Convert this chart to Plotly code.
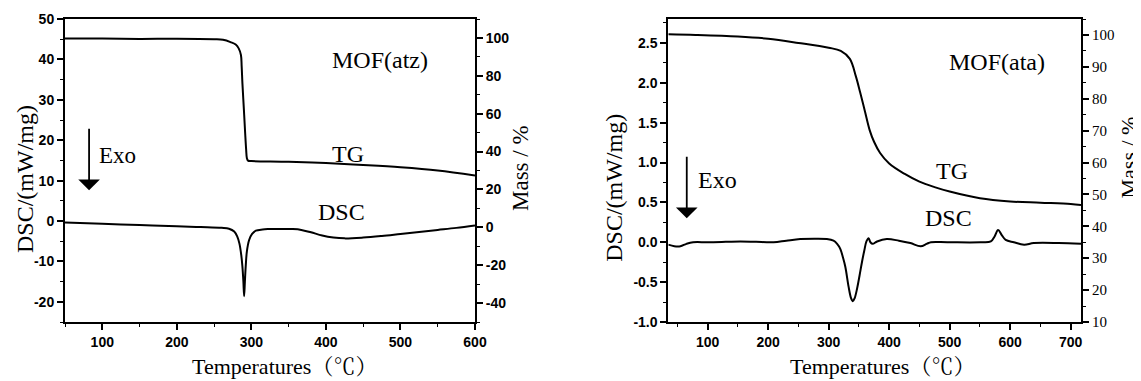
import plotly.graph_objects as go

# ---------------- Data: MOF(atz) (left panel) ----------------
tg_atz_T = [50, 100, 150, 200, 250, 262, 272, 279, 283, 286, 287, 288, 290, 291.7, 293, 294, 295.5, 300, 350, 400, 450, 500, 550, 600]
tg_atz_mass = [99.7, 99.7, 99.5, 99.6, 99.3, 99.0, 97.8, 96.5, 94.5, 91, 85, 76, 62, 49.5, 41, 36.5, 35.2, 35.0, 34.6, 33.9, 32.9, 31.7, 30.0, 27.4]

dsc_atz_T = [50, 100, 150, 200, 232, 260, 270, 277, 281, 284, 286.5, 288, 289.3, 290.3, 291.3, 292.5, 294, 297, 301, 306, 315, 322, 340, 355, 367, 380, 395, 410, 425, 450, 475, 500, 525, 550, 575, 600]
dsc_atz = [-0.4, -0.7, -1.0, -1.3, -1.5, -1.7, -1.9, -2.6, -3.8, -5.6, -8.5, -11.3, -15, -18.6, -15, -11, -7.5, -4.7, -3.2, -2.4, -2.1, -2.0, -1.95, -2.0, -2.2, -2.8, -3.6, -4.1, -4.3, -4.1, -3.7, -3.2, -2.7, -2.2, -1.7, -1.1]

# ---------------- Data: MOF(ata) (right panel) ----------------
tg_ata_T = [35, 80, 150, 200, 250, 300, 320, 335, 345, 352, 360, 368, 375, 385, 400, 425, 450, 475, 500, 550, 600, 650, 700, 717]
tg_ata_mass = [100.2, 100.0, 99.5, 98.8, 97.5, 96.0, 95.0, 92.5, 87, 82, 76, 70, 66.5, 63, 59.7, 56.5, 54, 52.3, 50.9, 48.8, 47.8, 47.4, 47.0, 46.7]

dsc_ata_T = [35, 45, 55, 65, 76, 100, 130, 154, 180, 209, 230, 253, 280, 297, 308, 314, 319, 324, 327.6, 333, 337, 340, 343, 347, 351, 355, 359, 362.4, 366, 369, 372.8, 380, 396, 416, 435, 452, 462, 469, 496, 551, 568, 574, 580, 586, 592.5, 606, 623, 639, 680, 717]
dsc_ata = [-0.03, -0.05, -0.05, -0.02, 0.0, 0.0, 0.005, 0.01, 0.005, 0.0, 0.02, 0.04, 0.045, 0.04, 0.02, -0.02, -0.08, -0.2, -0.31, -0.56, -0.7, -0.74, -0.7, -0.58, -0.42, -0.25, -0.1, 0.01, 0.05, 0.0, -0.02, 0.01, 0.04, 0.02, -0.01, -0.05, -0.02, 0.0, 0.0, 0.0, 0.01, 0.07, 0.155, 0.09, 0.03, 0.0, -0.03, -0.01, -0.01, -0.02]

# ---------------- Tick labels ----------------
atz_x_ticks = [100, 200, 300, 400, 500, 600]
atz_dsc_ticks = [-20, -10, 0, 10, 20, 30, 40, 50]
atz_mass_ticks = [-40, -20, 0, 20, 40, 60, 80, 100]
ata_x_ticks = [100, 200, 300, 400, 500, 600, 700]
ata_dsc_ticks = [-1.0, -0.5, 0.0, 0.5, 1.0, 1.5, 2.0, 2.5]
ata_mass_ticks = [10, 20, 30, 40, 50, 60, 70, 80, 90, 100]

# ---------------- Figure ----------------
OFF = 8                     # page body margin of the html page
W, H = 1141 - OFF, 381 - OFF

def px(x):   # screen pixel -> paper x
    return (x - OFF) / W

def py(y):   # screen pixel -> paper y
    return 1 - (y - OFF) / H

SERIF = "Liberation Serif, Times New Roman, Noto Serif CJK SC, Noto Sans CJK SC, serif"
SANS = "Liberation Sans, Arial, sans-serif"
tickfont = dict(family=SANS, size=14, color="black", weight="bold")

line = dict(color="black", width=2)
fig = go.Figure()
fig.add_trace(go.Scatter(x=dsc_atz_T, y=dsc_atz, mode="lines", line=line, xaxis="x", yaxis="y", line_shape="spline"))
fig.add_trace(go.Scatter(x=tg_atz_T, y=tg_atz_mass, mode="lines", line=line, xaxis="x", yaxis="y2", line_shape="spline"))
fig.add_trace(go.Scatter(x=dsc_ata_T, y=dsc_ata, mode="lines", line=line, xaxis="x2", yaxis="y3", line_shape="spline"))
fig.add_trace(go.Scatter(x=tg_ata_T, y=tg_ata_mass, mode="lines", line=line, xaxis="x2", yaxis="y4", line_shape="spline"))

xd1 = [px(65), px(475)]
xd2 = [px(668.3), px(1081)]
yd = [py(322), py(19)]

common = dict(showgrid=False, zeroline=False, showline=True, linecolor="black", linewidth=2,
              ticks="outside", ticklen=6, tickwidth=1.6, tickcolor="black", tickfont=tickfont,
              tickmode="array", automargin=False)

def minor(d):
    return dict(dtick=d, tick0=0, ticks="outside", ticklen=3, tickwidth=1.3, tickcolor="black")

def bold(vals, fmt="{:g}"):
    return ["<b>" + fmt.format(v) + "</b>" for v in vals]

fig.update_layout(
    width=W, height=H, margin=dict(l=0, r=0, t=0, b=0, pad=0, autoexpand=False),
    paper_bgcolor="white", plot_bgcolor="white", showlegend=False,
    xaxis=dict(domain=xd1, range=[50, 600], anchor="y", mirror=True,
               tickvals=atz_x_ticks, ticktext=bold(atz_x_ticks), minor=minor(50), **common),
    yaxis=dict(domain=yd, range=[-25, 50], anchor="x",
               tickvals=atz_dsc_ticks, ticktext=bold(atz_dsc_ticks), minor=minor(5), **common),
    yaxis2=dict(overlaying="y", side="right", range=[-50, 110], anchor="x",
                tickvals=atz_mass_ticks, ticktext=bold(atz_mass_ticks), minor=minor(10), **common),
    xaxis2=dict(domain=xd2, range=[35, 717], anchor="y3", mirror=True,
                tickvals=ata_x_ticks, ticktext=bold(ata_x_ticks), minor=minor(50), **common),
    yaxis3=dict(domain=yd, range=[-1.0, 2.8], anchor="x2",
                tickvals=ata_dsc_ticks, ticktext=bold(ata_dsc_ticks, "{:.1f}"), minor=minor(0.25), **common),
    yaxis4=dict(overlaying="y3", side="right", range=[10, 105], anchor="x2",
                tickvals=ata_mass_ticks, ticktext=[str(v) for v in ata_mass_ticks], minor=minor(5),
                **{**common, "tickfont": dict(family=SERIF, size=15, color="black")}),
)

def txt(x, y, s, size, xref, yref, angle=0):
    fig.add_annotation(x=x, y=y, text=s, xref=xref, yref=yref, showarrow=False,
                       xanchor="center", yanchor="middle", textangle=angle,
                       font=dict(family=SERIF, size=size, color="black"))

# panel labels
txt(473, 39.9, "MOF(atz)", 24, "x", "y")
txt(430, 16.6, "TG", 24, "x", "y")
txt(420.6, 2.2, "DSC", 24, "x", "y")
txt(120, 16.3, "Exo", 23, "x", "y")
txt(578.7, 2.26, "MOF(ata)", 24, "x2", "y3")
txt(504, 0.90, "TG", 24, "x2", "y3")
txt(498.6, 0.31, "DSC", 24, "x2", "y3")
txt(117, 0.775, "Exo", 24, "x2", "y3")

# Exo arrows
for x, y, xr, yr in [(82.3, 7.6, "x", "y"), (65.5, 0.30, "x2", "y3")]:
    fig.add_annotation(x=x, y=y, xref=xr, yref=yr, ax=0, ay=-63, text="", showarrow=True,
                       arrowhead=1, arrowsize=2.0, arrowwidth=1.8, arrowcolor="black")

# axis titles
txt(px(25), py(179), "DSC/(mW/mg)", 24, "paper", "paper", -90)
txt(px(520), py(168), "Mass / %", 23, "paper", "paper", -90)
txt(px(613.3), py(187.5), "DSC/(mW/mg)", 24, "paper", "paper", -90)
txt(px(1128), py(157.5), "Mass / %", 22, "paper", "paper", -90)
txt(px(284), py(366), "Temperatures（℃）", 22, "paper", "paper")
txt(px(882), py(366), "Temperatures（℃）", 22, "paper", "paper")

fig.write_html("out.html")
